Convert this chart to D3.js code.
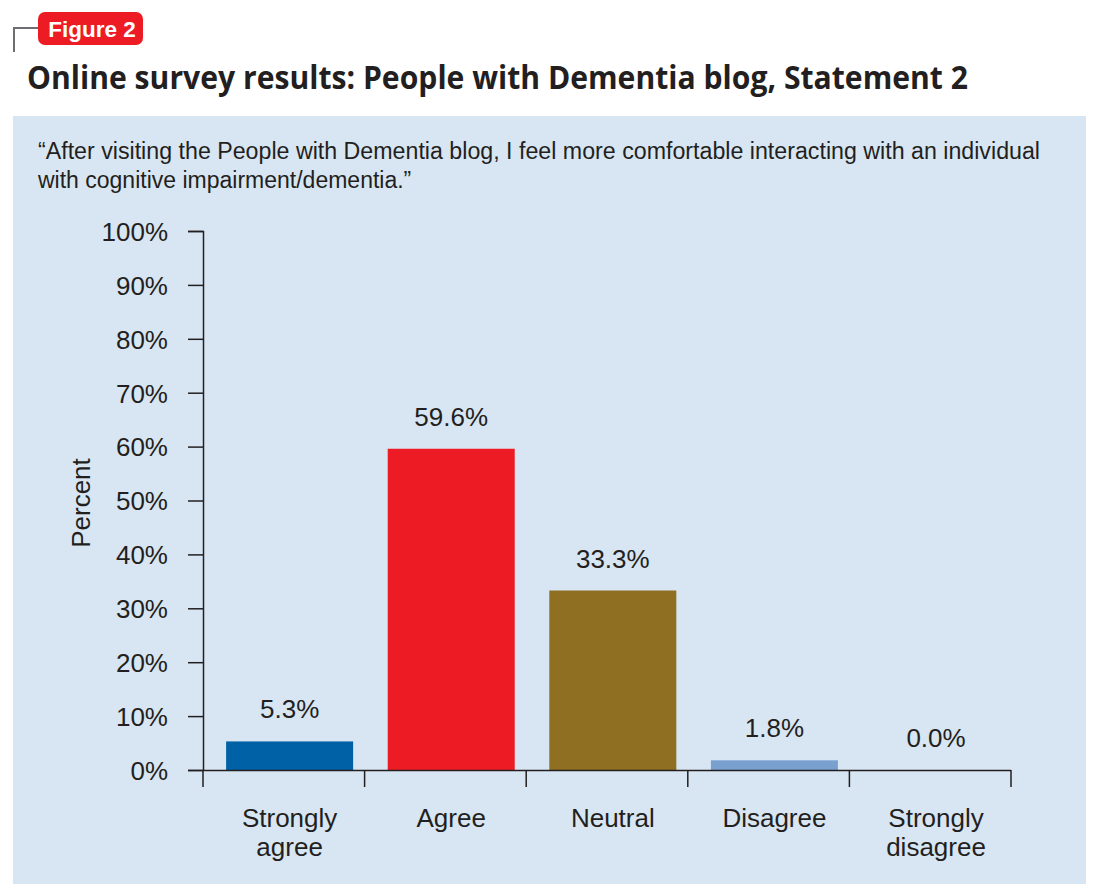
<!DOCTYPE html>
<html><head><meta charset="utf-8">
<script src="https://cdn.jsdelivr.net/npm/d3@7"></script>
<style>body{margin:0;background:#fff}</style>
</head><body>
<svg id="c" width="1100" height="895"></svg>
<script>
const categories = [["Strongly","agree"],["Agree"],["Neutral"],["Disagree"],["Strongly","disagree"]];
const values = [5.3, 59.6, 33.3, 1.8, 0.0];
const valueLabels = ["5.3%","59.6%","33.3%","1.8%","0.0%"];
const colors = ["#0061a6","#ed1c24","#8f6f22","#7aa0cf","#7aa0cf"];
const yTicks = [0,10,20,30,40,50,60,70,80,90,100];

const svg = d3.select("#c");
const ink = "#231f20";
const font = "'Liberation Sans', Arial, Helvetica, sans-serif";
const fs = 26;

// badge + bracket
svg.append("path").attr("d","M14,52 V28 H38").attr("fill","none").attr("stroke","#6d6e71").attr("stroke-width",2);
svg.append("rect").attr("x",38).attr("y",12).attr("width",105).attr("height",33).attr("rx",7).attr("fill","#ed1c24");
svg.append("text").attr("x",92).attr("y",37).attr("text-anchor","middle").attr("fill","#fff")
  .attr("font-family",font).attr("font-weight","bold").attr("font-size",22.5).text("Figure 2");

// title
svg.append("text").attr("x",27).attr("y",89).attr("fill",ink)
  .attr("font-family","'Open Sans', sans-serif").attr("font-weight","bold").attr("font-size",32)
  .attr("textLength",941).attr("lengthAdjust","spacingAndGlyphs")
  .text("Online survey results: People with Dementia blog, Statement 2");

// panel
svg.append("rect").attr("x",13).attr("y",116).attr("width",1073).attr("height",768).attr("fill","#d8e6f3");

svg.append("text").attr("x",38).attr("y",159).attr("fill",ink).attr("font-family",font).attr("font-size",23)
  .attr("textLength",1002).attr("lengthAdjust","spacingAndGlyphs")
  .text("\u201CAfter visiting the People with Dementia blog, I feel more comfortable interacting with an individual");
svg.append("text").attr("x",38).attr("y",188).attr("fill",ink).attr("font-family",font).attr("font-size",23)
  .text("with cognitive impairment/dementia.\u201D");

const x = d3.scaleBand().domain(d3.range(categories.length)).range([203,1011]).padding(0);
const step = x.step();
const barInset = 0.143, barFrac = 0.786;
const y = d3.scaleLinear().domain([0,100]).range([770,231]);

// y axis
const ya = svg.append("g").attr("transform","translate(203,0)")
  .call(d3.axisLeft(y).tickValues(yTicks).tickFormat(d=>d+"%").tickSize(15).tickPadding(20));
ya.select(".domain").attr("d","M-15,231.5H0.5V770.5").attr("stroke",ink).attr("stroke-width",1.5);
ya.selectAll(".tick line").attr("stroke",ink).attr("stroke-width",1.5);
ya.selectAll(".tick text").attr("font-family",font).attr("font-size",fs).attr("fill",ink).attr("dy","0.36em");

svg.append("text").attr("transform","translate(90,503) rotate(-90)").attr("text-anchor","middle")
  .attr("fill",ink).attr("font-family",font).attr("font-size",fs).text("Percent");

// bars
const bx = i => x(i) + step*barInset;
const bw = step*barFrac;
svg.selectAll("rect.bar").data(values).join("rect").attr("class","bar")
  .attr("x",(d,i)=>bx(i)).attr("width",bw)
  .attr("y",d=>y(d)).attr("height",d=>770-y(d)).attr("fill",(d,i)=>colors[i]);

svg.selectAll("text.val").data(values).join("text").attr("class","val")
  .attr("x",(d,i)=>bx(i)+bw/2).attr("y",d=>y(d)-23)
  .attr("text-anchor","middle").attr("fill",ink).attr("font-family",font).attr("font-size",fs)
  .text((d,i)=>valueLabels[i]);

// x axis
const bounds = d3.range(categories.length+1).map(i=>203+i*step);
svg.append("line").attr("x1",188).attr("x2",1011).attr("y1",770.5).attr("y2",770.5).attr("stroke",ink).attr("stroke-width",1.5);
svg.selectAll("line.xt").data(bounds).join("line").attr("class","xt")
  .attr("x1",d=>d).attr("x2",d=>d).attr("y1",770).attr("y2",787).attr("stroke",ink).attr("stroke-width",1.5);

const cl = svg.selectAll("text.cat").data(categories).join("text").attr("class","cat")
  .attr("text-anchor","middle").attr("fill",ink).attr("font-family",font).attr("font-size",fs);
cl.each(function(d,i){
  const t = d3.select(this);
  d.forEach((s,j)=>t.append("tspan").attr("x",bx(i)+bw/2).attr("y",827+j*29).text(s));
});
</script>
</body></html>
